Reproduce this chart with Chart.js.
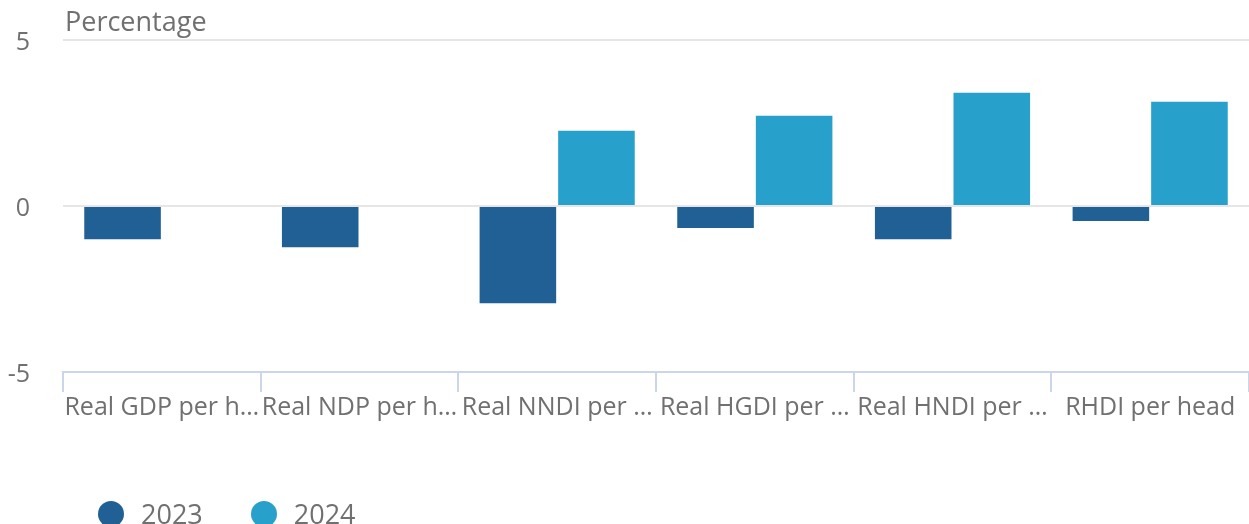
<!DOCTYPE html>
<html>
<head>
<meta charset="utf-8">
<script src="https://cdn.jsdelivr.net/npm/chart.js@4.4.1/dist/chart.umd.min.js"></script>
<style>
  html, body { margin: 0; padding: 0; background: #fff; }
  #wrap { position: relative; width: 1249px; height: 524px; overflow: hidden; }
  #legend { position: absolute; left: 98px; top: 495px; display: flex; font-family: "Open Sans", sans-serif; font-size: 27px; color: #707070; }
  .item { display: flex; align-items: center; margin-right: 48px; }
  .dot { width: 26px; height: 26px; border-radius: 50%; margin-right: 17px; }
</style>
</head>
<body>
<div id="wrap">
  <canvas id="myChart" width="1249" height="524"></canvas>
  <div id="legend"></div>
</div>
<script>
const categories = ['Real GDP per head', 'Real NDP per head', 'Real NNDI per head', 'Real HGDI per head', 'Real HNDI per head', 'RHDI per head']
const series2023 = [-1.03, -1.27, -2.96, -0.69, -1.03, -0.48]
const series2024 = [null, null, 2.30, 2.75, 3.44, 3.17]
const yTicks = [-5, 0, 5]
const seriesNames = ['2023', '2024']
const colors = ['#206095', '#27a0cc']

const textColor = '#707070'
const fontFamily = '"Open Sans", sans-serif'

// shorten long category names like the original axis does
const measureCtx = document.createElement('canvas').getContext('2d')
measureCtx.font = '25px "Open Sans"'
function fitLabel(txt, maxW) {
  if (measureCtx.measureText(txt).width <= maxW) return txt
  let s = txt
  while (s.length > 1 && measureCtx.measureText(s + '…').width > maxW) {
    s = s.slice(0, -1)
  }
  return s + '…'
}

const titlePlugin = {
  id: 'yTitle',
  afterDraw(chart) {
    const ctx = chart.ctx
    ctx.save()
    ctx.font = '27px ' + fontFamily
    ctx.fillStyle = textColor
    ctx.textBaseline = 'middle'
    ctx.fillText('Percentage', chart.chartArea.left + 2, 23)
    ctx.restore()
  }
}

const data = {
  labels: categories,
  datasets: [
    { label: seriesNames[0], data: series2023, backgroundColor: colors[0], borderColor: 'rgba(255,255,255,0.5)', borderWidth: 1 },
    { label: seriesNames[1], data: series2024, backgroundColor: colors[1], borderColor: 'rgba(255,255,255,0.5)', borderWidth: 1 }
  ]
}

const config = {
  type: 'bar',
  data: data,
  options: {
    responsive: false,
    animation: false,
    layout: { padding: { top: 40, right: 0, bottom: 100, left: 0 } },
    datasets: { bar: { categoryPercentage: 0.795, barPercentage: 1 } },
    plugins: {
      legend: { display: false },
      tooltip: { enabled: false }
    },
    scales: {
      x: {
        grid: { offset: true, drawOnChartArea: false, color: '#ccd6eb', tickLength: 20, lineWidth: 2 },
        border: { color: '#ccd6eb', width: 2 },
        ticks: {
          color: textColor,
          font: { family: fontFamily, size: 25 },
          padding: 1,
          maxRotation: 0,
          autoSkip: false,
          callback: (v, i) => fitLabel(categories[i], 196)
        }
      },
      y: {
        min: yTicks[0],
        max: yTicks[yTicks.length - 1],
        afterBuildTicks: s => { s.ticks = yTicks.map(v => ({ value: v })) },
        afterFit: s => { s.width = 63; s.paddingTop = 0; s.paddingBottom = 0 },
        grid: { color: ctx => ctx.tick.value === -5 ? 'rgba(0,0,0,0)' : '#e6e6e6', lineWidth: 2, drawTicks: false },
        border: { display: false },
        ticks: {
          color: textColor,
          font: { family: fontFamily, size: 25 },
          padding: 33,
          labelOffset: 3
        }
      }
    }
  },
  plugins: [titlePlugin]
}

const myChart = new Chart(document.getElementById('myChart'), config)

const legendBox = document.getElementById('legend')
seriesNames.forEach((n, i) => {
  legendBox.insertAdjacentHTML('beforeend',
    `<div class="item"><span class="dot" style="background:${colors[i]}"></span><span>${n}</span></div>`)
})
</script>
</body>
</html>
